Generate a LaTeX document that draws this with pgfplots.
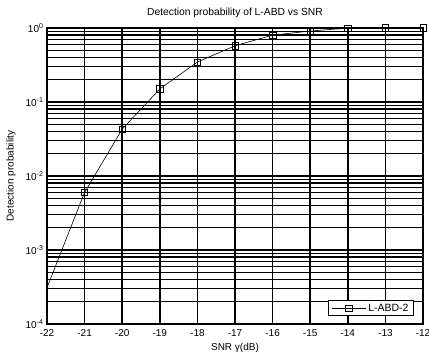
\documentclass[border=0pt]{standalone}
\usepackage{pgfplots}
\pgfplotsset{compat=1.18}
\usepackage{fontspec}
\setmainfont{Liberation Sans}
\begin{document}
\begin{tikzpicture}[x=1pt,y=1pt]
\begin{axis}[
  scale only axis,
  width=376pt, height=296pt,
  ymode=log,
  xmin=-22, xmax=-12,
  ymin=1e-4, ymax=1,
  xtick={-22,-21,...,-12},
  xticklabels={-22,-21,-20,-19,-18,-17,-16,-15,-14,-13,-12},
  ytick={1e-4,1e-3,1e-2,1e-1,1},
  yticklabels={10\textsuperscript{-4},10\textsuperscript{-3},10\textsuperscript{-2},10\textsuperscript{-1},10\textsuperscript{0}},
  minor ytick={2e-4,3e-4,4e-4,5e-4,6e-4,7e-4,8e-4,9e-4,
               2e-3,3e-3,4e-3,5e-3,6e-3,7e-3,8e-3,9e-3,
               2e-2,3e-2,4e-2,5e-2,6e-2,7e-2,8e-2,9e-2,
               0.2,0.3,0.4,0.5,0.6,0.7,0.8,0.9},
  grid=both,
  major grid style={black, line width=1.5pt},
  minor grid style={black, line width=1.5pt},
  axis line style={black, line width=1.2pt},
  tick style={draw=none},
  tick label style={font=\fontsize{10}{12}\selectfont},
  xticklabel style={yshift=-2pt},
  title={Detection probability of L-ABD vs SNR},
  title style={font=\fontsize{10.3}{12}\selectfont, yshift=1pt},
  xlabel={SNR γ(dB)},
  ylabel={Detection probability},
  label style={font=\fontsize{10}{12}\selectfont},
  xlabel style={yshift=0pt},
  ylabel style={yshift=3pt},
  legend style={at={(rel axis cs:0.976,0.027)}, anchor=south east, draw=black, line width=0.9pt,
     font=\fontsize{10.5}{12}\selectfont, inner xsep=3pt, inner ysep=1pt, fill=white},
  legend image code/.code={%
    \draw[mark indices={2}] plot coordinates {(0pt,0pt) (17pt,0pt) (34pt,0pt)};},
  legend cell align=left,
  clip=false,
]
\addplot[black, line width=0.6pt, mark=square, mark size=3.2pt, mark indices={2,3,4,5,6,7,8,9,10,11},
  mark options={line width=0.6pt, fill=none}]
  coordinates {
  (-22,3.1e-4) (-21,6.0e-3) (-20,0.043) (-19,0.15) (-18,0.347)
  (-17,0.575) (-16,0.80) (-15,0.91) (-14,0.995) (-13,1.0) (-12,1.0)
  };
\addlegendentry{L-ABD-2}
\end{axis}
\path (current axis.south west) ++(-47pt,-32pt) coordinate (bbsw);
\path (current axis.north east) ++(6pt,28pt) coordinate (bbne);
\pgfresetboundingbox
\path[use as bounding box] (bbsw) rectangle (bbne);
\end{tikzpicture}
\end{document}
